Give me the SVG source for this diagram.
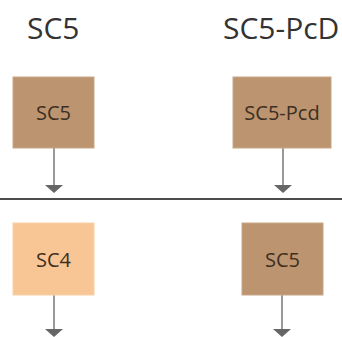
<svg xmlns="http://www.w3.org/2000/svg" width="342" height="337" viewBox="0 0 342 337">
<defs>
<style>
.title{font-family:"Open Sans","Noto Sans",sans-serif;font-size:30px;fill:#333;}
.lbl{font-family:"Open Sans","Noto Sans",sans-serif;font-size:20px;fill:#3d2f22;text-anchor:middle;}
.dark{fill:#bc946f;stroke:#c9a788;stroke-width:1;}
.light{fill:#f8c594;stroke:#f9d0a8;stroke-width:1;}
.conn{stroke:#777;stroke-width:1.5;fill:none;}
.head{fill:#666;}
</style>
</defs>
<rect width="342" height="337" fill="#fff"/>
<text class="title" x="27" y="39">SC5</text>
<text class="title" x="223" y="39">SC5-PcD</text>
<line x1="0" y1="199" x2="342" y2="199" stroke="#111" stroke-width="1.6"/>
<g id="connectors">
<line class="conn" x1="54" y1="148" x2="54" y2="187"/>
<polygon class="head" points="45,185 63,185 54,193"/>
<line class="conn" x1="283" y1="148" x2="283" y2="187"/>
<polygon class="head" points="274,185 292,185 283,193"/>
<line class="conn" x1="54" y1="295" x2="54" y2="332"/>
<polygon class="head" points="45,329 63,329 54,337"/>
<line class="conn" x1="282" y1="295" x2="282" y2="332"/>
<polygon class="head" points="273,329 291,329 282,337"/>
</g>
<g id="n1"><rect class="dark" x="13" y="77" width="81" height="71"/><text class="lbl" x="53.5" y="120">SC5</text></g>
<g id="n2"><rect class="dark" x="233" y="77" width="98" height="71"/><text class="lbl" x="282" y="120">SC5-Pcd</text></g>
<g id="n3"><rect class="light" x="13" y="223" width="81" height="72"/><text class="lbl" x="53.5" y="267">SC4</text></g>
<g id="n4"><rect class="dark" x="242" y="223" width="81" height="72"/><text class="lbl" x="282.5" y="267">SC5</text></g>
</svg>
